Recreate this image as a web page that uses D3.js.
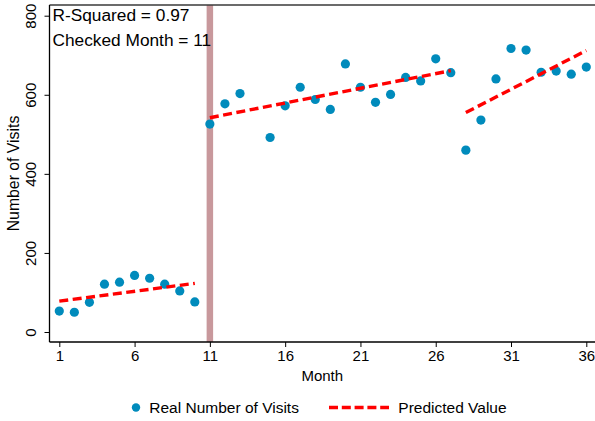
<!DOCTYPE html>
<html>
<head>
<meta charset="utf-8">
<script src="https://cdn.jsdelivr.net/npm/d3@7"></script>
<style>
  html, body { margin: 0; padding: 0; background: #fff; }
  svg { display: block; font-family: "Liberation Sans", Arial, sans-serif; }
</style>
</head>
<body>
<svg id="chart" width="595" height="421"></svg>
<script>
// ---- data ----
const months = [1,2,3,4,5,6,7,8,9,10,11,12,13,15,16,17,18,19,20,21,22,23,24,25,26,27,28,29,30,31,32,33,34,35,36];
const visits = [53,50,75,121,126,143,136,121,104,76,526,577,603,492,572,619,588,563,678,619,581,601,644,635,691,656,460,536,640,717,713,657,660,652,670];
const predStartMonth = [1, 11, 28];
const predEndMonth   = [10, 27, 36];
const predStartValue = [78, 542, 555];
const predEndValue   = [123, 661, 712];
const xTicks = [1, 6, 11, 16, 21, 26, 31, 36];
const yTicks = [0, 200, 400, 600, 800];
const checkedMonth = 11;
const annotations = ["R-Squared = 0.97", "Checked Month = 11"];
const legendLabels = ["Real Number of Visits", "Predicted Value"];
const xTitle = "Month";
const yTitle = "Number of Visits";

// ---- layout ----
const svg = d3.select("#chart");
const pLeft = 49.5, pRight = 595, pTop = 5, pBottom = 342;
const x = d3.scaleLinear().domain([1, 36]).range([59.3, 586.3]);
const y = d3.scaleLinear().domain([0, 800]).range([332, 15.7]);
const blue = "#008bbc";
const red = "#ff0000";

// checked-month band (beneath everything)
svg.append("line")
  .attr("x1", x(checkedMonth)).attr("x2", x(checkedMonth))
  .attr("y1", pTop).attr("y2", pBottom)
  .attr("stroke", "#c8989c").attr("stroke-width", 6.5);

// top border
svg.append("line").attr("x1", pLeft).attr("x2", pRight).attr("y1", pTop).attr("y2", pTop)
  .attr("stroke", "#3a3a3a").attr("stroke-width", 1.3);

// axes
const xAxis = d3.axisBottom(x).tickValues(xTicks).tickSize(5).tickPadding(3).tickFormat(d3.format("d"));
const gx = svg.append("g").attr("transform", `translate(0,${pBottom})`).call(xAxis);
gx.select(".domain").attr("d", `M${pLeft},0H${pRight}`).attr("stroke", "#000").attr("stroke-width", 1.3);
gx.selectAll(".tick line").attr("stroke", "#000").attr("stroke-width", 1);
gx.selectAll(".tick text").attr("font-size", 15).attr("fill", "#000")
  .attr("font-family", "Liberation Sans, Arial, sans-serif");

const yAxis = d3.axisLeft(y).tickValues(yTicks).tickSize(5).tickFormat(d3.format("d"));
const gy = svg.append("g").attr("transform", `translate(${pLeft},0)`).call(yAxis);
gy.select(".domain").attr("d", `M0,${pTop}V${pBottom}`).attr("stroke", "#000").attr("stroke-width", 1.3);
gy.selectAll(".tick line").attr("stroke", "#000").attr("stroke-width", 1);
gy.selectAll(".tick text")
  .attr("font-size", 15).attr("fill", "#000")
  .attr("font-family", "Liberation Sans, Arial, sans-serif")
  .attr("x", null).attr("dy", null)
  .attr("text-anchor", "middle")
  .attr("transform", "translate(-14,0) rotate(-90)");

// axis titles
svg.append("text").attr("x", (pLeft + pRight) / 2).attr("y", 381)
  .attr("text-anchor", "middle").attr("font-size", 15).text(xTitle);
svg.append("text").attr("transform", `translate(18.5,${(pTop + pBottom) / 2}) rotate(-90)`)
  .attr("text-anchor", "middle").attr("font-size", 15.8).text(yTitle);

// points
svg.append("g").selectAll("circle").data(months.map((m, i) => ({ m, v: visits[i] })))
  .join("circle")
  .attr("cx", d => x(d.m)).attr("cy", d => y(d.v)).attr("r", 4.6)
  .attr("fill", blue);

// predicted lines
const lineGen = d3.line().x(d => x(d[0])).y(d => y(d[1]));
svg.append("g").selectAll("path").data(predStartMonth.map((s, i) => [[s, predStartValue[i]], [predEndMonth[i], predEndValue[i]]]))
  .join("path")
  .attr("d", lineGen)
  .attr("fill", "none").attr("stroke", red).attr("stroke-width", 3.4)
  .attr("stroke-dasharray", "9,4.5");

// annotations
annotations.forEach((t, i) => {
  svg.append("text").attr("x", 52.5).attr("y", 20.7 + i * 25)
    .attr("font-size", 17.3).attr("fill", "#000").text(t);
});

// legend
const lg = svg.append("g");
lg.append("circle").attr("cx", 136).attr("cy", 407.5).attr("r", 4.2).attr("fill", blue);
lg.append("text").attr("x", 149.3).attr("y", 412.8).attr("font-size", 15.5).text(legendLabels[0]);
lg.append("line").attr("x1", 329).attr("x2", 389).attr("y1", 407.5).attr("y2", 407.5)
  .attr("stroke", red).attr("stroke-width", 3.4).attr("stroke-dasharray", "9,3.8");
lg.append("text").attr("x", 398.3).attr("y", 412.8).attr("font-size", 15.5).text(legendLabels[1]);
</script>
</body>
</html>
